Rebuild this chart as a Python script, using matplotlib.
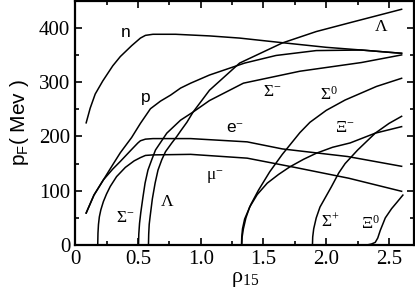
import numpy as np
import matplotlib
matplotlib.use("Agg")
from matplotlib import pyplot as plt
from matplotlib.ticker import MultipleLocator

plt.rcParams['font.family'] = ['Liberation Serif', 'DejaVu Serif']
plt.rcParams['mathtext.fontset'] = 'custom'
plt.rcParams['mathtext.rm'] = 'Liberation Serif'
plt.rcParams['mathtext.it'] = 'Liberation Serif:italic'
plt.rcParams['mathtext.sf'] = 'Liberation Sans'

# fermi momenta (MeV) vs density rho_15
n_x = [0.088, 0.12, 0.16, 0.22, 0.30, 0.36, 0.45, 0.52, 0.56, 0.62, 0.80, 1.07, 1.31, 1.63, 2.0, 2.28, 2.6]
n_y = [225, 252, 278, 302, 330, 347, 367, 381, 386, 388, 388, 385, 381, 373, 364, 359, 353]

p_x = [0.088, 0.15, 0.225, 0.30, 0.36, 0.45, 0.52, 0.60, 0.68, 0.76, 0.84, 0.92, 1.07, 1.35, 1.6, 1.92, 2.28, 2.6]
p_y = [59, 92, 120, 148, 170, 198, 224, 251, 265, 276, 289, 298, 313, 335, 349, 358, 359, 353]

e_x = [0.088, 0.15, 0.225, 0.30, 0.36, 0.45, 0.50, 0.52, 0.56, 0.62, 0.92, 1.37, 1.65, 2.17, 2.6]
e_y = [59, 92, 120, 140, 154, 176, 188, 192, 195, 196, 196, 190, 177, 163, 145]

mu_x = [0.18, 0.182, 0.186, 0.193, 0.205, 0.225, 0.25, 0.28, 0.33, 0.40, 0.47, 0.52, 0.56, 0.62, 0.92, 1.37, 1.75, 2.18, 2.6]
mu_y = [0, 22, 38, 52, 65, 80, 94, 108, 126, 143, 155, 161, 165, 166, 167, 160, 143, 123, 99]

sm_x = [0.505, 0.507, 0.513, 0.523, 0.54, 0.557, 0.58, 0.61, 0.64, 0.73, 0.84, 0.90, 0.94, 1.07, 1.34, 1.79, 2.28, 2.6]
sm_y = [0, 20, 40, 60, 88, 114, 138, 157, 175, 206, 230, 239, 245, 266, 298, 320, 336, 350]

lam_x = [0.584, 0.586, 0.59, 0.597, 0.615, 0.637, 0.66, 0.69, 0.72, 0.77, 0.81, 0.84, 0.89, 0.94, 1.07, 1.31, 1.65, 1.92, 2.2, 2.6]
lam_y = [0, 20, 38, 52, 85, 114, 138, 157, 172, 188, 200, 210, 226, 245, 285, 335, 372, 393, 410, 434]

s0_x = [1.325, 1.327, 1.333, 1.35, 1.40, 1.46, 1.55, 1.65, 1.79, 1.87, 2.0, 2.15, 2.4, 2.6]
s0_y = [0, 15, 30, 48, 75, 101, 135, 167, 207, 226, 248, 267, 292, 307]

xm_x = [1.327, 1.33, 1.34, 1.36, 1.39, 1.45, 1.53, 1.62, 1.71, 1.82, 1.92, 2.05, 2.19, 2.39, 2.6]
xm_y = [0, 15, 30, 50, 70, 93, 114, 130, 144, 158, 169, 180, 188, 206, 218]

sp_x = [1.89, 1.892, 1.90, 1.92, 1.95, 2.04, 2.10, 2.15, 2.19, 2.25, 2.39, 2.5, 2.6]
sp_y = [0, 15, 30, 50, 70, 107, 133, 150, 160, 175, 206, 224, 237]

x0_x = [2.32, 2.36, 2.39, 2.41, 2.43, 2.47, 2.52, 2.56, 2.61]
x0_y = [0, 2, 5, 13, 27, 50, 67, 78, 92]

curves = [(n_x, n_y), (p_x, p_y), (e_x, e_y), (mu_x, mu_y), (sm_x, sm_y),
          (lam_x, lam_y), (s0_x, s0_y), (xm_x, xm_y), (sp_x, sp_y), (x0_x, x0_y)]

# curve labels: text, x, y, sans?
labels = [("n", 0.40, 392, True), ("p", 0.56, 271, True), ("e$^{-}$", 1.27, 215, True),
          ("μ$^{-}$", 1.11, 126, False), ("Σ$^{-}$", 1.57, 282, False),
          ("Σ$^{0}$", 2.02, 276, False), ("Λ", 2.44, 402, False),
          ("Ξ$^{-}$", 2.15, 215, False), ("Σ$^{+}$", 2.03, 43, False),
          ("Ξ$^{0}$", 2.35, 40, False), ("Σ$^{-}$", 0.40, 49, False),
          ("Λ", 0.73, 80, False)]

fig = plt.figure(figsize=(4.15, 2.96), dpi=100)
ax = fig.add_axes([0.181, 0.172, 0.817, 0.826])

for cx, cy in curves:
    ax.plot(cx, cy, color='black', lw=1.1)

for txt, lx, ly, sans in labels:
    fam = ['Liberation Sans'] if sans else ['Liberation Serif', 'DejaVu Serif']
    ax.text(lx, ly, txt, ha='center', va='center', fontsize=12.5, family=fam)

ax.set_xlim(0, 2.7)
ax.set_ylim(0, 450)
ax.xaxis.set_major_locator(MultipleLocator(0.5))
ax.xaxis.set_minor_locator(MultipleLocator(0.25))
ax.yaxis.set_major_locator(MultipleLocator(100))
ax.yaxis.set_minor_locator(MultipleLocator(50))
ax.set_xticks([0, 0.5, 1.0, 1.5, 2.0, 2.5])
ax.set_xticklabels(['0', '0.5', '1.0', '1.5', '2.0', '2.5'])
ax.tick_params(which='both', direction='in', top=True, right=True, labelsize=15, width=1.2)
ax.tick_params(which='major', length=5)
ax.tick_params(which='minor', length=3)
for s in ax.spines.values():
    s.set_linewidth(1.6)

ax.set_xlabel("ρ$_{15}$", fontsize=16, labelpad=1)
ax.set_ylabel("p$_\\mathsf{F}$( Mev )", fontsize=15, family='Liberation Sans', labelpad=6)

fig.savefig("out.png", dpi=100)
